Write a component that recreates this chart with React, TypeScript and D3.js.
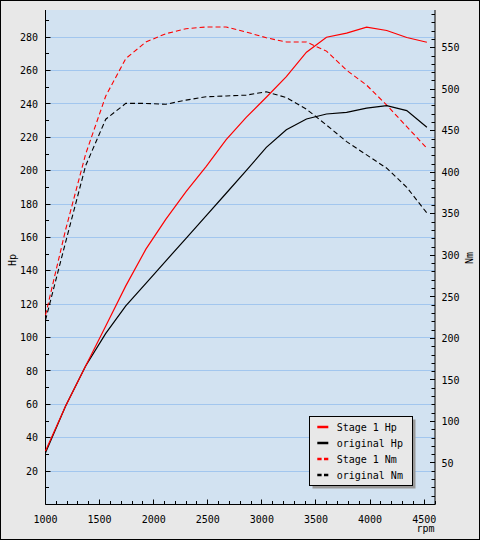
import React, { useEffect } from "react";
import * as d3 from "d3";

const rpm = [1000, 1186, 1371, 1557, 1742, 1928, 2113, 2299, 2484, 2670, 2855, 3041, 3226, 3412, 3597, 3783, 3968, 4154, 4339, 4525];
const stage1Hp = [32, 59, 83, 107, 131, 153, 171, 187.5, 202.5, 218.6, 232, 244, 256.4, 271, 280, 282.4, 286, 284, 279.8, 277];
const originalHp = [31, 59, 83, 102.5, 119, 132.5, 146, 159.5, 173, 186.5, 200, 214, 224.5, 231, 234, 235, 237.5, 239, 236, 226];
const stage1Nm = [228, 331, 422, 492, 537, 557, 567, 573, 575, 575, 569, 562, 557, 557, 546, 523, 505, 481, 455, 429];
const originalNm = [222, 316, 408, 464, 483, 483, 482, 487, 491, 492, 493, 497, 490, 476, 457, 437, 421, 405, 382, 351];

const rpmTicks = [1000, 1500, 2000, 2500, 3000, 3500, 4000, 4500];
const hpTicks = [20, 40, 60, 80, 100, 120, 140, 160, 180, 200, 220, 240, 260, 280];
const nmTicks = [50, 100, 150, 200, 250, 300, 350, 400, 450, 500, 550];

const seriesNames = ["Stage 1 Hp", "original Hp", "Stage 1 Nm", "original Nm"];
const seriesColors = ["#ff0000", "#000000", "#ff0000", "#000000"];

const W = 480;
const H = 540;
const L = 45.5;
const R = 435;
const T = 10;
const B = 504.5;
const FONT = "'DejaVu Sans Mono', monospace";

export default function App() {
  useEffect(() => {
    document.body.style.margin = "0";
  }, []);

  const x = d3.scaleLinear().domain([1000, 4600]).range([L, R]);
  const yHp = d3.scaleLinear().domain([0, 296.3]).range([B, T]);
  const yNm = d3.scaleLinear().domain([0, 595.5]).range([B, T]);

  const hpLine = (vals: number[]) =>
    d3.line<number>().x((_, i) => x(rpm[i])).y((d) => yHp(d))(vals) || "";
  const nmLine = (vals: number[]) =>
    d3.line<number>().x((_, i) => x(rpm[i])).y((d) => yNm(d))(vals) || "";

  const xMinor = d3.range(1000, 4601, 100);
  const hpMinor = d3.range(10, 296, 10);
  const nmMinor = d3.range(10, 595, 10);

  const crisp = (v: number) => Math.round(v - 0.5) + 0.5;

  const legX = 309.5;
  const legY = 416.5;
  const legW = 103;
  const legH = 69;

  return (
    <svg width={W} height={H} style={{ position: "absolute", left: 0, top: 0, display: "block" }}>
      <rect x={0} y={0} width={W} height={H} fill="#e8e8e8" />
      <rect x={0.5} y={0.5} width={W - 1} height={H - 1} fill="none" stroke="#000" />
      <rect x={L} y={T} width={R - L} height={B - T} fill="#d2e2f1" />
      {hpTicks.map((t) => (
        <line key={"g" + t} x1={L} x2={R} y1={crisp(yHp(t))} y2={crisp(yHp(t))} stroke="#a2c6ee" strokeWidth={1} />
      ))}

      {/* axes */}
      <line x1={L} x2={L} y1={T} y2={B} stroke="#000" />
      <line x1={R} x2={R} y1={T} y2={B} stroke="#000" />
      <line x1={L} x2={R} y1={B} y2={B} stroke="#000" />

      {xMinor.map((t) => (
        <line key={"xm" + t} x1={crisp(x(t))} x2={crisp(x(t))} y1={B} y2={B - (t % 500 === 0 ? 5 : 3.5)} stroke="#000" />
      ))}
      {hpMinor.map((t) => (
        <line key={"hm" + t} x1={L} x2={L + (t % 20 === 0 ? 5 : 3.5)} y1={crisp(yHp(t))} y2={crisp(yHp(t))} stroke="#000" />
      ))}
      {nmMinor.map((t) => (
        <line key={"nm" + t} x1={R} x2={R - (t % 50 === 0 ? 5 : 3.5)} y1={crisp(yNm(t))} y2={crisp(yNm(t))} stroke="#000" />
      ))}

      <g fontFamily={FONT} fontSize={10} fill="#000">
        {rpmTicks.map((t) => (
          <text key={"xl" + t} x={x(t)} y={523} textAnchor="middle">{t}</text>
        ))}
        {hpTicks.map((t) => (
          <text key={"hl" + t} x={38} y={yHp(t) + 3.6} textAnchor="end">{t}</text>
        ))}
        {nmTicks.map((t) => (
          <text key={"nl" + t} x={441.5} y={yNm(t) + 3.6} textAnchor="start">{t}</text>
        ))}
        <text x={434.5} y={532} textAnchor="end">rpm</text>
        <text transform={`translate(16,260) rotate(-90)`} textAnchor="middle">Hp</text>
        <text transform={`translate(473,258) rotate(-90)`} textAnchor="middle">Nm</text>
      </g>

      {/* series */}
      <path d={nmLine(originalNm)} fill="none" stroke={seriesColors[3]} strokeWidth={1.1} strokeDasharray="5,3" />
      <path d={nmLine(stage1Nm)} fill="none" stroke={seriesColors[2]} strokeWidth={1.1} strokeDasharray="5,3" />
      <path d={hpLine(originalHp)} fill="none" stroke={seriesColors[1]} strokeWidth={1.2} />
      <path d={hpLine(stage1Hp)} fill="none" stroke={seriesColors[0]} strokeWidth={1.2} />

      {/* legend */}
      <rect x={legX + 3} y={legY + 3} width={legW} height={legH} fill="#999" />
      <rect x={legX} y={legY} width={legW} height={legH} fill="#e8e8e8" stroke="#000" />
      <g fontFamily={FONT} fontSize={10} fill="#000">
        {seriesNames.map((n, i) => {
          const cy = 427 + i * 16;
          return (
            <g key={n}>
              <line
                x1={317.3}
                x2={328.3}
                y1={cy}
                y2={cy}
                stroke={seriesColors[i]}
                strokeWidth={2.5}
                strokeDasharray={i >= 2 ? "4.3,2.4" : undefined}
              />
              <text x={336.7} y={cy + 3.6}>{n}</text>
            </g>
          );
        })}
      </g>
    </svg>
  );
}
